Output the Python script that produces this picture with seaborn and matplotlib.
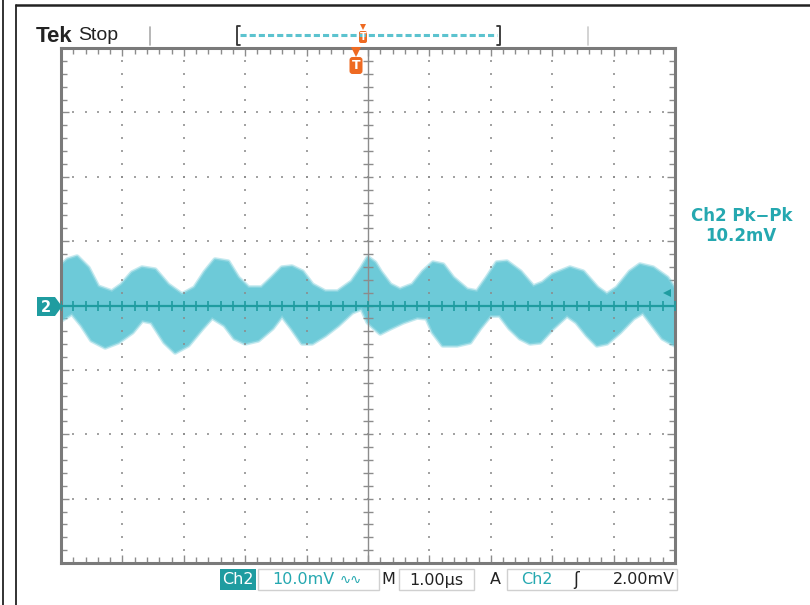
import numpy as np
import pandas as pd
import seaborn as sns
import matplotlib.pyplot as plt
from matplotlib.patches import Rectangle, Polygon, FancyBboxPatch

# ripple band: time in us (1 us/div), level in mV (10 mV/div)
upper_t = [0.00, 0.11, 0.26, 0.44, 0.60, 0.83, 0.99, 1.16, 1.32, 1.53, 1.74, 1.97,
           2.18, 2.35, 2.51, 2.72, 2.88, 3.05, 3.27, 3.44, 3.60, 3.76, 3.93, 4.09,
           4.30, 4.51, 4.74, 4.90, 5.00, 5.11, 5.20, 5.36, 5.52, 5.73, 5.90, 6.06,
           6.22, 6.38, 6.61, 6.78, 6.94, 7.10, 7.26, 7.48, 7.69, 7.85, 8.01, 8.29,
           8.50, 8.73, 8.89, 9.06, 9.27, 9.43, 9.64, 9.87, 10.0]
upper_mv = [6.13, 7.07, 7.53, 5.82, 2.87, 2.10, 3.18, 5.05, 5.82, 5.51, 3.18, 1.63,
            2.72, 5.20, 7.07, 6.75, 4.27, 2.72, 2.72, 4.27, 5.82, 5.98, 5.20, 3.18,
            2.10, 2.10, 3.65, 5.82, 7.38, 6.60, 5.20, 3.18, 2.41, 3.18, 5.20, 6.60,
            6.29, 4.27, 2.41, 2.10, 4.27, 6.60, 6.75, 5.20, 2.87, 3.49, 4.74, 5.82,
            5.20, 2.72, 1.63, 2.72, 5.20, 6.29, 5.82, 4.27, 2.41]
lower_t = [0.00, 0.18, 0.34, 0.50, 0.72, 0.93, 1.16, 1.32, 1.48, 1.69, 1.86, 2.07,
           2.30, 2.46, 2.67, 2.83, 3.00, 3.21, 3.44, 3.60, 3.76, 3.93, 4.09, 4.30,
           4.51, 4.74, 4.90, 5.00, 5.20, 5.36, 5.57, 5.80, 5.96, 6.06, 6.22, 6.45,
           6.66, 6.82, 6.99, 7.15, 7.31, 7.48, 7.64, 7.80, 8.01, 8.24, 8.40, 8.57,
           8.73, 8.89, 9.10, 9.32, 9.48, 9.64, 9.80, 10.0]
lower_mv = [-2.25, -1.16, -3.03, -5.36, -6.44, -5.67, -4.11, -2.25, -2.56, -5.67, -7.22, -6.13,
            -3.49, -1.79, -3.03, -5.05, -5.82, -5.36, -3.49, -1.48, -3.49, -5.82, -5.82, -4.58,
            -3.03, -1.01, -0.39, -2.56, -4.27, -3.49, -2.56, -1.79, -1.94, -4.11, -6.13, -6.13,
            -5.67, -3.49, -1.48, -1.48, -3.49, -5.05, -5.82, -5.67, -3.49, -1.48, -2.56, -4.58,
            -6.13, -5.82, -4.11, -1.94, -1.01, -3.03, -5.05, -6.13]

trig_level_mv = 2.0
pkpk_label = "Ch2 Pk\u2212Pk"
pkpk_value = "10.2mV"
ch_scale = "10.0mV"
time_scale = "1.00\u00b5s"
trig_value = "2.00mV"

band = "#6dcad8"
teal = "#1f9ca0"
cyan_txt = "#25a8b0"
grid_c = "#8c8c8c"
orange = "#ee6a22"

sns.set_theme(style="white")
plt.rcParams['font.family'] = ['DejaVu Sans']

fig = plt.figure(figsize=(8.1, 6.05), dpi=100)
fig.patch.set_facecolor("white")
ax = fig.add_axes([61 / 810, (605 - 563) / 605, 614 / 810, 515 / 605])
ax.set_facecolor("white")

# the noisy band, edges drawn soft to look like the smeared trace
ax.fill(np.r_[upper_t, lower_t[::-1]], np.r_[upper_mv, lower_mv[::-1]],
        color=band, lw=0, zorder=1)
edges = pd.concat([
    pd.DataFrame({"t": upper_t, "mV": upper_mv, "edge": "upper"}),
    pd.DataFrame({"t": lower_t, "mV": lower_mv, "edge": "lower"}),
])
sns.lineplot(data=edges, x="t", y="mV", hue="edge", palette=[band, band],
             estimator=None, lw=4, alpha=0.4, legend=False, ax=ax, zorder=1)
sns.lineplot(data=edges, x="t", y="mV", hue="edge", palette=[band, band],
             estimator=None, lw=2, alpha=0.7, legend=False, ax=ax, zorder=1)

# graticule
minor_x = np.arange(0, 10.01, 0.2)
minor_y = np.arange(-40, 40.01, 2)
for xv in [1, 2, 3, 4, 6, 7, 8, 9]:
    ax.plot(np.full_like(minor_y, xv), minor_y, ls="none", marker="s", ms=2,
            mew=0, color=grid_c, alpha=0.8, zorder=2)
for yv in [-30, -20, -10, 10, 20, 30]:
    ax.plot(minor_x, np.full_like(minor_x, yv), ls="none", marker="s", ms=2,
            mew=0, color=grid_c, alpha=0.8, zorder=2)
ax.axvline(5, color=grid_c, lw=1, zorder=2)
ax.plot(np.full_like(minor_y, 5), minor_y, ls="none", marker="_", ms=7, mew=1,
        color=grid_c, zorder=2)
ax.axhline(0, color=teal, lw=1.6, zorder=3)
ax.plot(minor_x, np.zeros_like(minor_x), ls="none", marker="|", ms=7, mew=1.2,
        color=teal, zorder=3)

ax.set_xlim(0, 10)
ax.set_ylim(-40, 40)
ax.set_xticks(np.arange(0, 11, 1))
ax.set_xticks(minor_x, minor=True)
ax.set_yticks(np.arange(-40, 41, 10))
ax.set_yticks(minor_y, minor=True)
ax.tick_params(which="both", direction="in", top=True, right=True, bottom=True,
               left=True, labelbottom=False, labelleft=False, color=grid_c, width=1)
ax.tick_params(which="major", length=6)
ax.tick_params(which="minor", length=4)
ax.set_xlabel("")
ax.set_ylabel("")
for s in ax.spines.values():
    s.set_color("#7a7a7a")
    s.set_linewidth(2.2)

# trigger level arrow on the right edge
ax.plot([9.87], [trig_level_mv], marker="<", ms=6, color=teal, mew=0, zorder=4,
        clip_on=False)

# screen decorations in pixel space
ov = fig.add_axes([0, 0, 1, 1])
ov.patch.set_alpha(0)
ov.set_xlim(0, 810)
ov.set_ylim(605, 0)
ov.axis("off")

# outer borders
ov.plot([3, 3], [0, 605], color="#222222", lw=1.3)
ov.plot([16, 16], [5, 605], color="#222222", lw=1.3)
ov.plot([16, 810], [5, 5], color="#222222", lw=1.8)

ov.text(36, 36, "Tek", fontsize=16, fontweight="bold", color="#222222",
        va="center", ha="left", family=["Liberation Sans", "DejaVu Sans"])
ov.text(78, 36, "Stop", fontsize=14, color="#222222", va="center", ha="left",
        family=["Liberation Sans", "DejaVu Sans"])
ov.plot([150, 150], [27, 45], color="#aaaaaa", lw=1.2)
ov.plot([588, 588], [27, 45], color="#cccccc", lw=1.2)

# record-position bracket
ov.plot([240, 237, 237, 240], [26, 26, 45, 45], color="#333333", lw=1.3)
ov.plot([497, 500, 500, 497], [26, 26, 45, 45], color="#333333", lw=1.3)
ov.plot([240, 497], [35, 35], color="#5cc3cf", lw=2.2, ls=(0, (2, 1)))
ov.plot([363], [27], marker="v", ms=5, color=orange, mew=0)
ov.add_patch(FancyBboxPatch((359, 31), 8, 12, boxstyle="round,pad=0,rounding_size=2",
                            fc=orange, ec="none"))
ov.text(363, 37.5, "T", fontsize=7, color="white", fontweight="bold",
        ha="center", va="center")

# trigger position marker under the top edge
ov.plot([356], [52], marker="v", ms=7, color=orange, mew=0)
ov.add_patch(FancyBboxPatch((349.5, 57), 13, 17, boxstyle="round,pad=0,rounding_size=3",
                            fc=orange, ec="none"))
ov.text(356, 65.5, "T", fontsize=9, color="white", fontweight="bold",
        ha="center", va="center")

# channel 2 ground marker
ov.add_patch(Polygon([[37, 297], [55, 297], [62, 306.5], [55, 316], [37, 316]],
                     closed=True, fc=teal, ec="none"))
ov.text(46, 307, "2", fontsize=10.5, color="white", fontweight="bold",
        ha="center", va="center")

# measurement readout
ov.text(742, 216, pkpk_label, fontsize=12, color=cyan_txt, fontweight="bold",
        ha="center", va="center")
ov.text(741, 236, pkpk_value, fontsize=12, color=cyan_txt, fontweight="bold",
        ha="center", va="center")

# status bar
yb = 580
fs = 11.5
ov.add_patch(Rectangle((220, 569), 36, 21, fc=teal, ec="none"))
ov.text(238, yb, "Ch2", fontsize=fs, color="white", ha="center", va="center")
ov.add_patch(Rectangle((258, 569), 121, 21, fc="none", ec="#d0d0d0", lw=1))
ov.text(272, yb, ch_scale, fontsize=fs, color=cyan_txt, ha="left", va="center")
ov.text(340, yb, "\u223f\u223f", fontsize=9.5, color=cyan_txt, ha="left", va="center")
ov.text(381, yb, "M", fontsize=fs, color="#222222", ha="left", va="center")
ov.add_patch(Rectangle((399, 569), 75, 21, fc="none", ec="#d0d0d0", lw=1))
ov.text(436.5, yb, time_scale, fontsize=fs, color="#222222", ha="center", va="center")
ov.text(490, yb, "A", fontsize=fs, color="#222222", ha="left", va="center")
ov.add_patch(Rectangle((507, 569), 170, 21, fc="none", ec="#d0d0d0", lw=1))
ov.text(521, yb, "Ch2", fontsize=fs, color=cyan_txt, ha="left", va="center")
ov.text(573, yb, "\u0283", fontsize=12, color="#222222",
        ha="left", va="center")
ov.text(675, yb, trig_value, fontsize=fs, color="#222222", ha="right", va="center")

fig.savefig("out.png", dpi=100, facecolor="white")
